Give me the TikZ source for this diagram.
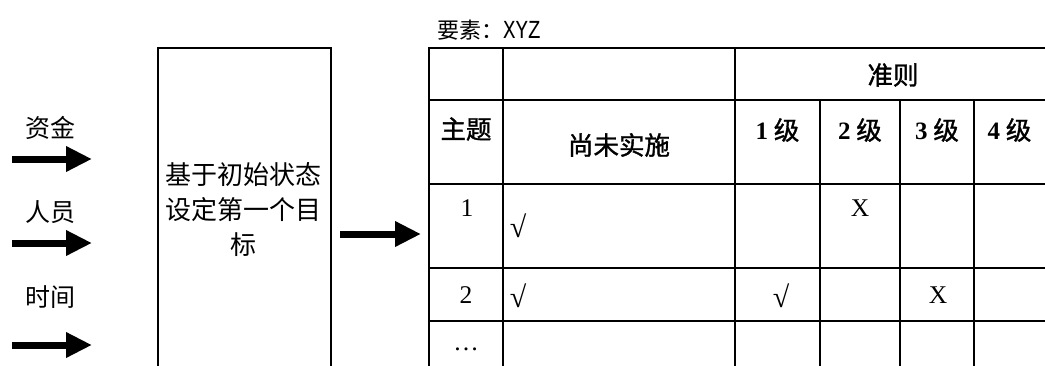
\documentclass[tikz,border=0pt]{standalone}
\usepackage{fontspec}
\setmainfont{Liberation Serif}
\newfontfamily\cjk{Noto Sans CJK SC}
\newfontfamily\cjkb[FakeBold=1.3]{Noto Sans CJK SC}
\newfontfamily\monof[FakeStretch=0.8]{Liberation Mono}
\usetikzlibrary{arrows.meta}
\tikzset{
  fat/.style={line width=7pt, -{Triangle[length=26pt,width=24pt]}},
  grid/.style={line width=1.6pt},
  lbl/.style={inner sep=0pt, font=\cjk\fontsize{25}{30}\selectfont},
  hdr/.style={inner sep=0pt, font=\cjkb\fontsize{25.5}{30}\selectfont},
  num/.style={inner sep=0pt, font=\rmfamily\fontsize{25.5}{28}\selectfont},
  chk/.style={inner sep=0pt, font=\rmfamily\fontsize{30}{32}\selectfont},
}
\newcommand{\bnum}[1]{{\rmfamily\bfseries\fontsize{25}{30}\selectfont #1}}
\begin{document}
\begin{tikzpicture}[x=1pt,y=-1pt]
\useasboundingbox[fill=white] (0,0) rectangle (1045,365);
% left inputs
\node[lbl] (l1) at (50,128) {资金};
\node[lbl] (l2) at (50,212) {人员};
\node[lbl] (l3) at (50,297) {时间};
\coordinate (a1s) at (12,159); \coordinate (a1e) at (92,159);
\coordinate (a2s) at (12,243); \coordinate (a2e) at (92,243);
\coordinate (a3s) at (12,345); \coordinate (a3e) at (92,345);
\draw[fat] (a1s) -- (a1e);
\draw[fat] (a2s) -- (a2e);
\draw[fat] (a3s) -- (a3e);
% central box
\node[draw, line width=1.6pt, minimum width=173pt, minimum height=360pt, anchor=north west, inner sep=0pt] (box) at (157,47) {};
\node[lbl, text width=173pt, align=center, font=\cjk\fontsize{26}{35}\selectfont] (boxtxt) at (243.5,210) {基于初始状态\\设定第一个目\\标};
\coordinate (m1) at (340,234); \coordinate (m2) at (421,234);
\draw[fat] (m1) -- (m2);
% title
\node[inner sep=0pt, anchor=west] (title) at (437,30) {\cjk\fontsize{22}{25}\selectfont 要素：\monof\fontsize{26}{25}\selectfont XYZ};
% table grid
\draw[grid] (429,48) -- (1050,48);
\draw[grid] (429,100) -- (1050,100);
\draw[grid] (429,184) -- (1050,184);
\draw[grid] (429,268) -- (1050,268);
\draw[grid] (429,321) -- (1050,321);
\draw[grid] (429,47.2) -- (429,370);
\draw[grid] (503,48) -- (503,370);
\draw[grid] (735,48) -- (735,370);
\draw[grid] (820,100) -- (820,370);
\draw[grid] (900,100) -- (900,370);
\draw[grid] (974,100) -- (974,370);
% header texts
\node[hdr] (crit) at (893,75) {准则};
\node[hdr] (topic) at (466,129) {主题};
\node[hdr] (notyet) at (619,145) {尚未实施};
\node[hdr] (g1) at (777.5,130) {\bnum{1} 级};
\node[hdr] (g2) at (860,130) {\bnum{2} 级};
\node[hdr] (g3) at (937,130) {\bnum{3} 级};
\node[hdr] (g4) at (1009.5,130) {\bnum{4} 级};
% rows
\node[num] (r1) at (467,208.5) {1};
\node[chk] (r1a) at (518,226) {√};
\node[num] (r1x) at (860,208) {X};
\node[num] (r2) at (466,295) {2};
\node[chk] (r2a) at (518,296) {√};
\node[chk] (r2b) at (781,296) {√};
\node[num] (r2x) at (938,295) {X};
\node[num] (r3) at (466,349) {…};
\end{tikzpicture}
\end{document}
